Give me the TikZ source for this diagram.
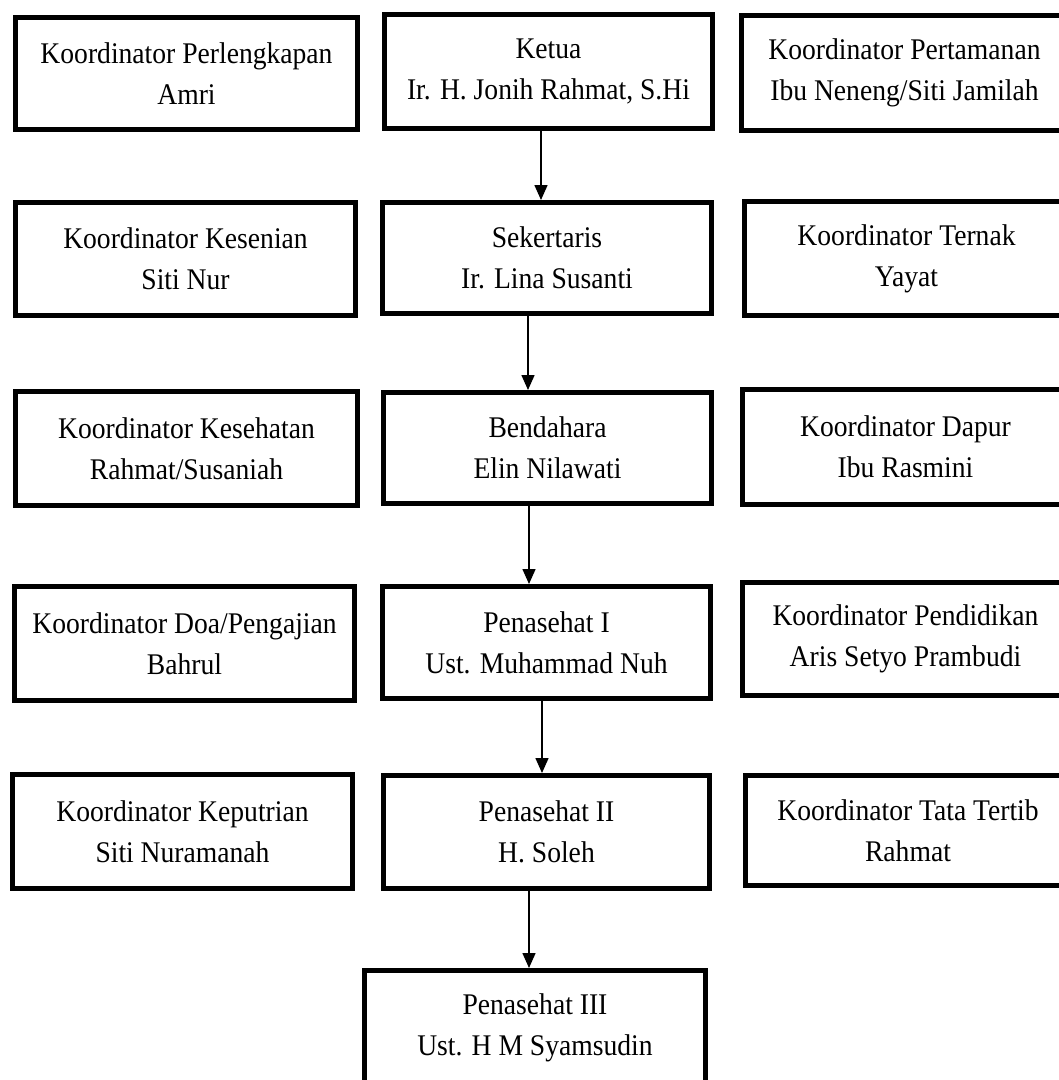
\documentclass[tikz,border=0pt]{standalone}
\usepackage{fontspec}
\setmainfont[FakeStretch=0.92]{Liberation Serif}
\usetikzlibrary{arrows.meta}
\begin{document}
\begin{tikzpicture}[x=1pt,y=-1pt,
  box/.style={draw=black,line width=5pt,rectangle,align=center,inner sep=0pt,
    font=\fontsize{30}{41}\selectfont,text=black},
  arr/.style={line width=1.5pt,-{Triangle[width=13pt,length=15pt]}}]
\useasboundingbox (0,0) rectangle (1059,1080);
\clip (0,0) rectangle (1059,1080);
% row 1
\node[box,minimum width=342pt,minimum height=112pt] (perl) at (186.5,73.5) {Koordinator Perlengkapan\\Amri};
\node[box,minimum width=328pt,minimum height=114pt] (ketua) at (548.5,71.5) {Ketua\\Ir. H. Jonih Rahmat, S.Hi};
\node[box,minimum width=326pt,minimum height=115pt] (perta) at (904.5,73) {Koordinator Pertamanan\\Ibu Neneng/Siti Jamilah};
% row 2
\node[box,minimum width=340pt,minimum height=113pt] (seni) at (185.5,259) {Koordinator Kesenian\\Siti Nur};
\node[box,minimum width=329pt,minimum height=111pt] (sek) at (547,258) {Sekertaris\\Ir. Lina Susanti};
\node[box,minimum width=324pt,minimum height=114pt] (ternak) at (906.5,258.5) {Koordinator Ternak\\Yayat};
% row 3
\node[box,minimum width=342pt,minimum height=114pt] (sehat) at (186.5,448.5) {Koordinator Kesehatan\\Rahmat/Susaniah};
\node[box,minimum width=328pt,minimum height=111pt] (bend) at (547.5,448) {Bendahara\\Elin Nilawati};
\node[box,minimum width=326pt,minimum height=115pt] (dapur) at (905.5,447) {Koordinator Dapur\\Ibu Rasmini};
% row 4
\node[box,minimum width=340pt,minimum height=114pt] (doa) at (184.5,643.5) {Koordinator Doa/Pengajian\\Bahrul};
\node[box,minimum width=328pt,minimum height=112pt] (pen1) at (546.5,642.5) {Penasehat I\\Ust. Muhammad Nuh};
\node[box,minimum width=326pt,minimum height=113pt] (didik) at (905.5,639) {Koordinator Pendidikan\\Aris Setyo Prambudi};
% row 5
\node[box,minimum width=340pt,minimum height=114pt] (putri) at (182.5,831.5) {Koordinator Keputrian\\Siti Nuramanah};
\node[box,minimum width=326pt,minimum height=113pt] (pen2) at (546.5,832) {Penasehat II\\H. Soleh};
\node[box,minimum width=325pt,minimum height=110pt] (tertib) at (908,830.5) {Koordinator Tata Tertib\\Rahmat};
% row 6
\node[box,minimum width=341pt,minimum height=115pt] (pen3) at (535,1028) {Penasehat III\\Ust. H M Syamsudin};
% arrows
\draw[arr] (ketua.south -| 541,0) -- (sek.north -| 541,0);
\draw[arr] (sek.south -| 528,0) -- (bend.north -| 528,0);
\draw[arr] (bend.south -| 529,0) -- (pen1.north -| 529,0);
\draw[arr] (pen1.south -| 542,0) -- (pen2.north -| 542,0);
\draw[arr] (pen2.south -| 529,0) -- (pen3.north -| 529,0);
\end{tikzpicture}
\end{document}
